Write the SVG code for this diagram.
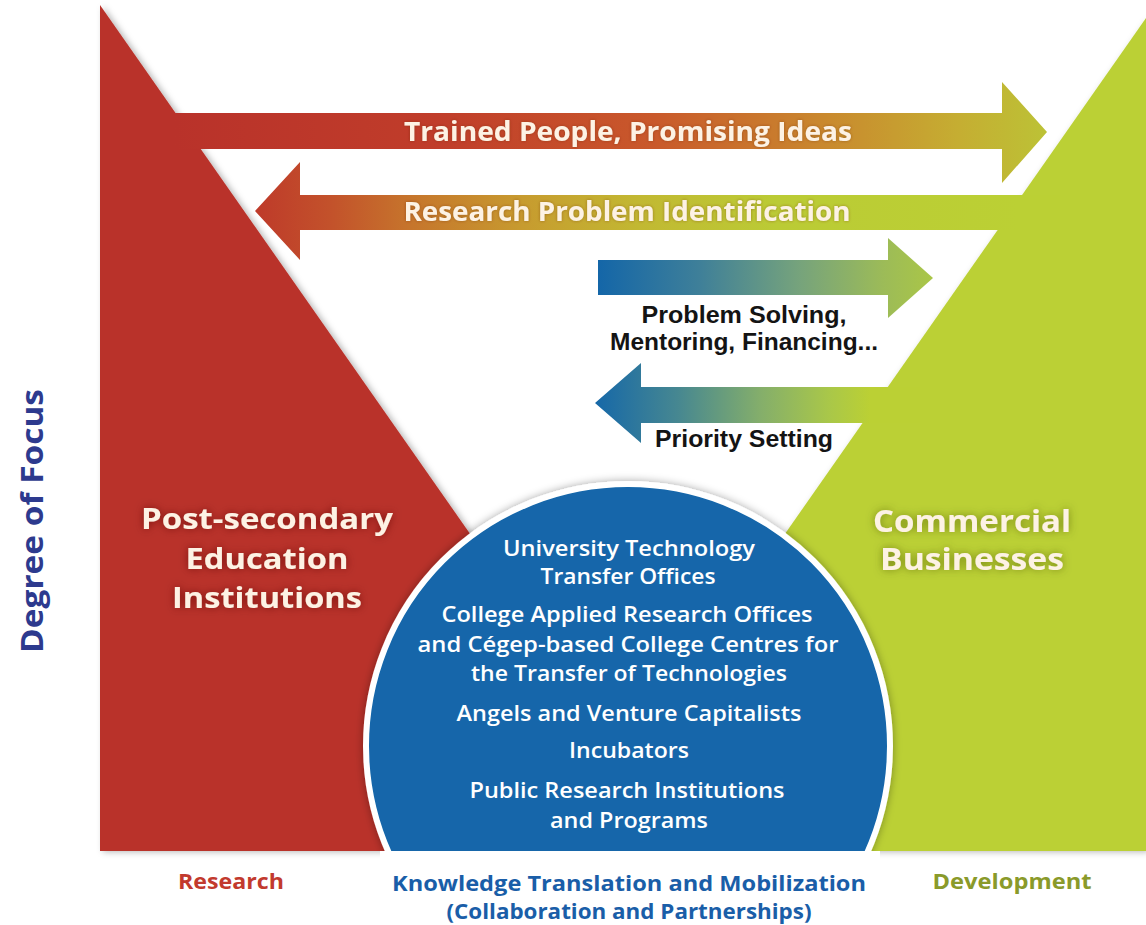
<svg xmlns="http://www.w3.org/2000/svg" width="1146" height="925" viewBox="0 0 1146 925">
  <defs>
    <style>
      .t { font-family: "Open Sans", "Noto Sans", "Liberation Sans", sans-serif; font-weight: 700; text-anchor: middle; }
      .cream { fill: #FDF2E4; }
      .circ { font-family: "Open Sans", "Noto Sans", "Liberation Sans", sans-serif; font-weight: 600; font-size: 21px; fill: #FFFFFF; text-anchor: middle; }
      .dark { font-family: "Liberation Sans", Arial, sans-serif; font-weight: 700; font-size: 24px; fill: #141414; text-anchor: middle; }
    </style>
    <linearGradient id="g1" gradientUnits="userSpaceOnUse" x1="175" y1="0" x2="1047" y2="0">
      <stop offset="0" stop-color="#B9322A"/>
      <stop offset="0.3" stop-color="#C03D2A"/>
      <stop offset="0.55" stop-color="#C9592B"/>
      <stop offset="0.75" stop-color="#C98A2E"/>
      <stop offset="0.9" stop-color="#C5AE32"/>
      <stop offset="1" stop-color="#BCC236"/>
    </linearGradient>
    <linearGradient id="g2" gradientUnits="userSpaceOnUse" x1="255" y1="0" x2="1020" y2="0">
      <stop offset="0" stop-color="#BE3A2A"/>
      <stop offset="0.1" stop-color="#C3522B"/>
      <stop offset="0.2" stop-color="#C6742C"/>
      <stop offset="0.35" stop-color="#C79B2F"/>
      <stop offset="0.5" stop-color="#C2B832"/>
      <stop offset="0.68" stop-color="#BBCB35"/>
      <stop offset="1" stop-color="#BBD034"/>
    </linearGradient>
    <linearGradient id="g3" gradientUnits="userSpaceOnUse" x1="598" y1="0" x2="933" y2="0">
      <stop offset="0" stop-color="#1466A8"/>
      <stop offset="0.3" stop-color="#3E7F99"/>
      <stop offset="0.6" stop-color="#76A37C"/>
      <stop offset="0.85" stop-color="#9CBB58"/>
      <stop offset="1" stop-color="#AAC647"/>
    </linearGradient>
    <linearGradient id="g4" gradientUnits="userSpaceOnUse" x1="595" y1="0" x2="870" y2="0">
      <stop offset="0" stop-color="#1668A8"/>
      <stop offset="0.3" stop-color="#468791"/>
      <stop offset="0.6" stop-color="#84AE6B"/>
      <stop offset="0.85" stop-color="#A9C749"/>
      <stop offset="1" stop-color="#BBD034"/>
    </linearGradient>
    <filter id="tri" x="-10%" y="-10%" width="130%" height="130%">
      <feDropShadow dx="3" dy="1" stdDeviation="3" flood-color="#000000" flood-opacity="0.28"/>
    </filter>
    <filter id="circShadow" x="-10%" y="-10%" width="120%" height="120%">
      <feDropShadow dx="0" dy="0" stdDeviation="4" flood-color="#000000" flood-opacity="0.35"/>
    </filter>
    <filter id="glowRed" x="-20%" y="-40%" width="140%" height="180%">
      <feGaussianBlur in="SourceAlpha" stdDeviation="4" result="b"/>
      <feFlood flood-color="#5A1008" flood-opacity="0.65"/>
      <feComposite in2="b" operator="in" result="s"/>
      <feMerge><feMergeNode in="s"/><feMergeNode in="SourceGraphic"/></feMerge>
    </filter>
    <filter id="glowGreen" x="-20%" y="-40%" width="140%" height="180%">
      <feGaussianBlur in="SourceAlpha" stdDeviation="4" result="b"/>
      <feFlood flood-color="#4A5410" flood-opacity="0.6"/>
      <feComposite in2="b" operator="in" result="s"/>
      <feMerge><feMergeNode in="s"/><feMergeNode in="SourceGraphic"/></feMerge>
    </filter>
    <filter id="soft" x="-10%" y="-40%" width="120%" height="180%">
      <feGaussianBlur in="SourceAlpha" stdDeviation="1.5" result="b"/>
      <feFlood flood-color="#6A2A10" flood-opacity="0.45"/>
      <feComposite in2="b" operator="in" result="s"/>
      <feMerge><feMergeNode in="s"/><feMergeNode in="SourceGraphic"/></feMerge>
    </filter>
    <clipPath id="clipBottom">
      <rect x="0" y="0" width="1146" height="851"/>
    </clipPath>
  </defs>

  <rect x="0" y="0" width="1146" height="925" fill="#FFFFFF"/>

  <g id="research-triangle">
    <polygon points="100,5 100,851 692,851" fill="#B9322A" filter="url(#tri)"/>
  </g>
  <g id="development-triangle">
    <polygon points="1146,18 1146,851 563,851" fill="#BBD034" filter="url(#tri)"/>
  </g>
  <rect x="380" y="851" width="500" height="10" fill="#FFFFFF"/>

  <g id="connectors">
    <g id="arrow-trained-people">
      <polygon points="150,113 1002,113 1002,82 1047,132 1002,183 1002,149 150,149" fill="url(#g1)"/>
      <text class="t cream" x="628" y="141" font-size="26" textLength="448" lengthAdjust="spacingAndGlyphs" filter="url(#soft)">Trained People, Promising Ideas</text>
    </g>
    <g id="arrow-research-problem">
      <polygon points="255,211 300,162 300,195 1060,195 1060,230 300,230 300,260" fill="url(#g2)"/>
      <text class="t cream" x="627" y="221" font-size="26" textLength="447" lengthAdjust="spacingAndGlyphs" filter="url(#soft)">Research Problem Identification</text>
    </g>
    <g id="arrow-problem-solving">
      <polygon points="598,260 888,260 888,238 933,278 888,318 888,295 598,295" fill="url(#g3)"/>
      <text class="dark" x="744" y="323" textLength="205" lengthAdjust="spacingAndGlyphs">Problem Solving,</text>
      <text class="dark" x="744" y="350" textLength="268" lengthAdjust="spacingAndGlyphs">Mentoring, Financing...</text>
    </g>
    <g id="arrow-priority-setting">
      <polygon points="595,403 641,363 641,387 920,387 920,423 641,423 641,443" fill="url(#g4)"/>
      <text class="dark" x="744" y="447" textLength="178" lengthAdjust="spacingAndGlyphs">Priority Setting</text>
    </g>
  </g>

  <g id="intermediaries-circle">
    <g clip-path="url(#clipBottom)">
      <circle cx="628" cy="746" r="262" fill="#1266AA" stroke="#FFFFFF" stroke-width="6" filter="url(#circShadow)"/>
    </g>
    <text class="circ" x="629" y="556" textLength="252" lengthAdjust="spacingAndGlyphs">University Technology</text>
    <text class="circ" x="628" y="584" textLength="175" lengthAdjust="spacingAndGlyphs">Transfer Offices</text>
    <text class="circ" x="627" y="622" textLength="371" lengthAdjust="spacingAndGlyphs">College Applied Research Offices</text>
    <text class="circ" x="628" y="652" textLength="421" lengthAdjust="spacingAndGlyphs">and Cégep-based College Centres for</text>
    <text class="circ" x="629" y="681" textLength="316" lengthAdjust="spacingAndGlyphs">the Transfer of Technologies</text>
    <text class="circ" x="629" y="721" textLength="345" lengthAdjust="spacingAndGlyphs">Angels and Venture Capitalists</text>
    <text class="circ" x="629" y="758" textLength="120" lengthAdjust="spacingAndGlyphs">Incubators</text>
    <text class="circ" x="627" y="798" textLength="315" lengthAdjust="spacingAndGlyphs">Public Research Institutions</text>
    <text class="circ" x="629" y="828" textLength="158" lengthAdjust="spacingAndGlyphs">and Programs</text>
  </g>

  <g id="label-post-secondary" filter="url(#glowRed)">
    <text class="t cream" x="267" y="529" font-size="29" textLength="252" lengthAdjust="spacingAndGlyphs">Post-secondary</text>
    <text class="t cream" x="267" y="569" font-size="29" textLength="163" lengthAdjust="spacingAndGlyphs">Education</text>
    <text class="t cream" x="267" y="608" font-size="29" textLength="190" lengthAdjust="spacingAndGlyphs">Institutions</text>
  </g>

  <g id="label-commercial" filter="url(#glowGreen)">
    <text class="t cream" x="972" y="532" font-size="31" textLength="198" lengthAdjust="spacingAndGlyphs">Commercial</text>
    <text class="t cream" x="972" y="570" font-size="31" textLength="184" lengthAdjust="spacingAndGlyphs">Businesses</text>
  </g>

  <g id="axis-labels">
    <text class="t" x="0" y="0" font-size="30" fill="#2D3A8E" textLength="264" lengthAdjust="spacingAndGlyphs" transform="translate(43,521) rotate(-90)">Degree of Focus</text>
    <text class="t" x="231" y="889" font-size="22" fill="#C23A2E" textLength="106" lengthAdjust="spacingAndGlyphs">Research</text>
    <text class="t" x="629" y="891" font-size="22" fill="#1A5EA8" textLength="474" lengthAdjust="spacingAndGlyphs">Knowledge Translation and Mobilization</text>
    <text class="t" x="629" y="919" font-size="22" fill="#1A5EA8" textLength="365" lengthAdjust="spacingAndGlyphs">(Collaboration and Partnerships)</text>
    <text class="t" x="1012" y="889" font-size="22" fill="#8A9A2A" textLength="159" lengthAdjust="spacingAndGlyphs">Development</text>
  </g>
</svg>
